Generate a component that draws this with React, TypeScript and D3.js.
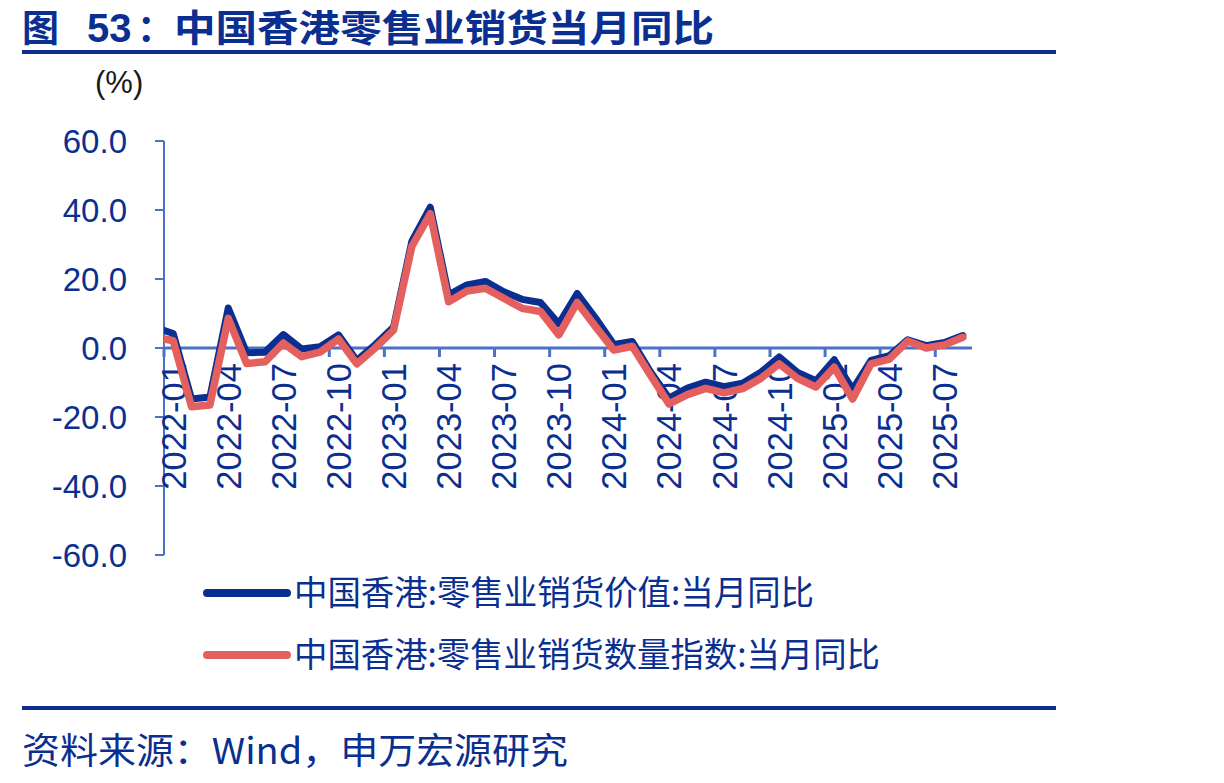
import React, { useRef, useEffect } from "react";
import * as d3 from "d3";

// 月份（首个月份仅用于把折线延伸到坐标轴边缘，被裁剪）
const months = [
  "2021-12",
  "2022-01", "2022-02", "2022-03", "2022-04", "2022-05", "2022-06",
  "2022-07", "2022-08", "2022-09", "2022-10", "2022-11", "2022-12",
  "2023-01", "2023-02", "2023-03", "2023-04", "2023-05", "2023-06",
  "2023-07", "2023-08", "2023-09", "2023-10", "2023-11", "2023-12",
  "2024-01", "2024-02", "2024-03", "2024-04", "2024-05", "2024-06",
  "2024-07", "2024-08", "2024-09", "2024-10", "2024-11", "2024-12",
  "2025-01", "2025-02", "2025-03", "2025-04", "2025-05", "2025-06",
  "2025-07", "2025-08",
];

// 零售业销货价值:当月同比 (%)
const valueYoY = [
  6.0,
  4.2, -14.8, -14.2, 11.6, -1.4, -1.2,
  3.9, -0.3, 0.4, 3.8, -3.6, 1.0,
  6.1, 31.0, 40.8, 15.4, 18.3, 19.3,
  16.3, 14.1, 13.2, 7.0, 15.8, 8.7,
  1.0, 1.9, -7.0, -14.5, -11.6, -9.9,
  -11.2, -10.2, -7.0, -2.6, -7.1, -9.5,
  -3.4, -12.0, -3.6, -2.2, 2.4, 0.7,
  1.6, 3.6,
];

// 零售业销货数量指数:当月同比 (%)
const volumeYoY = [
  3.2,
  2.1, -17.0, -16.5, 8.6, -4.5, -4.0,
  1.4, -2.5, -1.2, 2.6, -4.6, 0.0,
  5.2, 29.5, 38.9, 13.4, 16.5, 17.3,
  14.4, 11.5, 10.6, 3.8, 13.2, 6.2,
  -0.6, 0.5, -8.0, -16.2, -13.5, -11.7,
  -13.0, -11.8, -8.8, -4.6, -8.8, -11.3,
  -5.6, -14.8, -4.6, -3.2, 2.0, 0.0,
  0.9, 3.1,
];

const yTicks = [-60, -40, -20, 0, 20, 40, 60];

const seriesNames = [
  "中国香港:零售业销货价值:当月同比",
  "中国香港:零售业销货数量指数:当月同比",
];

const W = 1224;
const H = 783;
const NAVY = "#0a2f91";
const AXIS = "#4a73c6";
const RED = "#e4605e";
const CJK = "'Noto Sans CJK SC', 'Noto Sans', sans-serif";
const LATIN = "'Liberation Sans', Arial, sans-serif";

// 负号用普通连字符
const fmt = (d: number) => d.toFixed(1);

const RetailChart = () => {
  const ref = useRef<SVGSVGElement>(null);

  useEffect(() => {
    const container = ref.current;
    if (!container) return;
    const svg = d3.select(container);
    svg.selectChildren().remove();

    const plot = { left: 164, right: 972, top: 141, bottom: 555 };
    const nCats = months.length - 1;

    // 分类轴：刻度在分类之间，数据点在分类中央
    const x = d3.scaleLinear().domain([0, nCats]).range([plot.left, plot.right]);
    const y = d3.scaleLinear().domain([-60, 60]).range([plot.bottom, plot.top]);
    const px = (i: number) => x(i - 0.5);

    // 标题
    const title = svg
      .append("text")
      .attr("y", 42)
      .attr("fill", NAVY)
      .attr("font-weight", "bold")
      .style("font-family", CJK)
      .style("font-size", "37px");
    title.append("tspan").attr("x", 22).text("图");
    title.append("tspan").attr("x", 87).style("font-family", LATIN).style("font-size", "40px").text("53");
    title.append("tspan").attr("x", 137).text("：");
    title
      .append("tspan")
      .attr("x", 174)
      .attr("textLength", 540)
      .attr("lengthAdjust", "spacingAndGlyphs")
      .text("中国香港零售业销货当月同比");

    svg
      .append("rect")
      .attr("x", 22)
      .attr("y", 50)
      .attr("width", 1034)
      .attr("height", 4)
      .attr("fill", NAVY);

    // 单位
    svg
      .append("text")
      .attr("x", 95)
      .attr("y", 93)
      .attr("fill", "#1a1a1a")
      .style("font-family", LATIN)
      .style("font-size", "31px")
      .text("(%)");

    const defs = svg.append("defs");
    defs
      .append("clipPath")
      .attr("id", "plot-clip")
      .append("rect")
      .attr("x", plot.left)
      .attr("y", plot.top - 20)
      .attr("width", plot.right - plot.left + 20)
      .attr("height", plot.bottom - plot.top + 40);

    // Y 轴
    const gy = svg.append("g");
    gy.append("line")
      .attr("x1", plot.left)
      .attr("x2", plot.left)
      .attr("y1", plot.top)
      .attr("y2", plot.bottom)
      .attr("stroke", AXIS)
      .attr("stroke-width", 2);
    gy.selectAll("line.tick")
      .data(yTicks)
      .enter()
      .append("line")
      .attr("class", "tick")
      .attr("x1", plot.left - 9)
      .attr("x2", plot.left)
      .attr("y1", (d) => y(d))
      .attr("y2", (d) => y(d))
      .attr("stroke", AXIS)
      .attr("stroke-width", 2);
    gy.selectAll("text")
      .data(yTicks)
      .enter()
      .append("text")
      .attr("x", 127)
      .attr("y", (d) => y(d))
      .attr("dy", "0.36em")
      .attr("text-anchor", "end")
      .attr("fill", NAVY)
      .style("font-family", LATIN)
      .style("font-size", "33px")
      .text(fmt);

    // X 轴
    const tickIdx = d3.range(0, nCats, 3);
    const gx = svg.append("g");
    gx.append("line")
      .attr("x1", plot.left)
      .attr("x2", plot.right)
      .attr("y1", y(0))
      .attr("y2", y(0))
      .attr("stroke", AXIS)
      .attr("stroke-width", 3);
    gx.selectAll("line.tick")
      .data(tickIdx)
      .enter()
      .append("line")
      .attr("class", "tick")
      .attr("x1", (d) => x(d))
      .attr("x2", (d) => x(d))
      .attr("y1", y(0))
      .attr("y2", y(0) + 9)
      .attr("stroke", AXIS)
      .attr("stroke-width", 3);
    gx.selectAll("text")
      .data(tickIdx)
      .enter()
      .append("text")
      .attr("transform", (d) => `translate(${x(d + 0.5)}, ${y(0) + 15}) rotate(-90)`)
      .attr("dy", "0.36em")
      .attr("text-anchor", "end")
      .attr("fill", NAVY)
      .style("font-family", LATIN)
      .style("font-size", "34.5px")
      .text((d) => months[d + 1]);

    // 折线
    const line = d3
      .line<number>()
      .x((_d, i) => px(i))
      .y((d) => y(d));
    const lines = svg.append("g").attr("clip-path", "url(#plot-clip)");
    lines
      .append("path")
      .datum(valueYoY)
      .attr("d", line)
      .attr("fill", "none")
      .attr("stroke", NAVY)
      .attr("stroke-width", 7)
      .attr("stroke-linejoin", "round")
      .attr("stroke-linecap", "round");
    lines
      .append("path")
      .datum(volumeYoY)
      .attr("d", line)
      .attr("fill", "none")
      .attr("stroke", RED)
      .attr("stroke-width", 7.5)
      .attr("stroke-linejoin", "round")
      .attr("stroke-linecap", "round");

    // 图例
    const legend = svg
      .selectAll("g.legend")
      .data(seriesNames)
      .enter()
      .append("g")
      .attr("class", "legend")
      .attr("transform", (_d, i) => `translate(0, ${593 + i * 62})`);
    legend
      .append("line")
      .attr("x1", 207)
      .attr("x2", 287)
      .attr("stroke", (_d, i) => (i === 0 ? NAVY : RED))
      .attr("stroke-width", 8)
      .attr("stroke-linecap", "round");
    legend
      .append("text")
      .attr("x", 294)
      .attr("dy", "0.36em")
      .attr("fill", NAVY)
      .attr("textLength", (_d, i) => (i === 0 ? 520 : 586))
      .attr("lengthAdjust", "spacingAndGlyphs")
      .style("font-family", CJK)
      .style("font-size", "34px")
      .text((d) => d);

    // 底部分隔线与来源
    svg
      .append("rect")
      .attr("x", 22)
      .attr("y", 706)
      .attr("width", 1034)
      .attr("height", 4)
      .attr("fill", NAVY);
    svg
      .append("text")
      .attr("x", 22)
      .attr("y", 764)
      .attr("fill", NAVY)
      .attr("textLength", 546)
      .attr("lengthAdjust", "spacingAndGlyphs")
      .style("font-family", CJK)
      .style("font-size", "36px")
      .text("资料来源：Wind，申万宏源研究");
  }, []);

  return (
    <svg
      ref={ref}
      width={W}
      height={H}
      viewBox={`0 0 ${W} ${H}`}
      style={{ position: "absolute", left: 0, top: 0, background: "#fff" }}
    />
  );
};

export default function App() {
  return <RetailChart />;
}
